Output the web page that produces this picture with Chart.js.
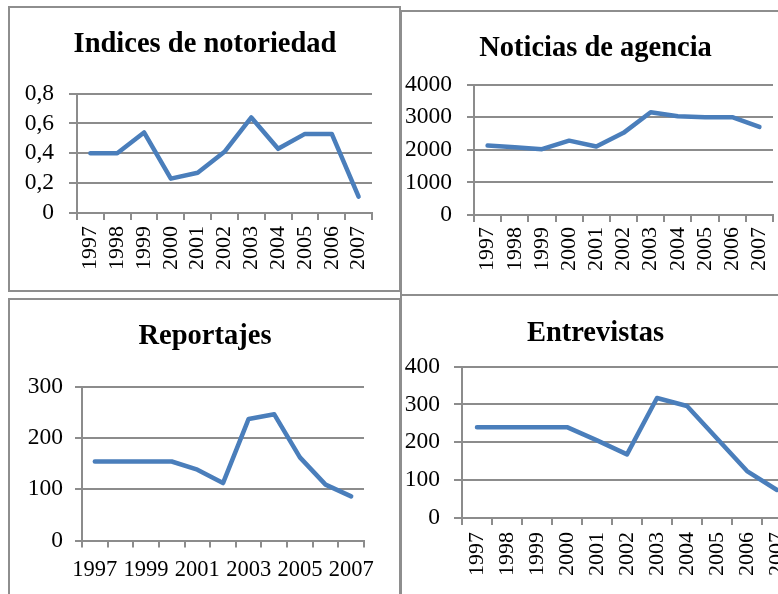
<!DOCTYPE html>
<html>
<head>
<meta charset="utf-8">
<script src="https://cdn.jsdelivr.net/npm/chart.js@4/dist/chart.umd.min.js"></script>
<style>
  html, body { margin: 0; padding: 0; background: #fff; }
  body { width: 778px; height: 594px; overflow: hidden; position: relative; }
  .box { position: absolute; box-sizing: border-box; border: 2px solid #8e8e8e; }
  canvas { position: absolute; }
</style>
</head>
<body>
<div class="box" style="left:8px;top:6px;width:393px;height:286px"></div>
<div class="box" style="left:400px;top:10px;width:400px;height:286px"></div>
<div class="box" style="left:8px;top:298px;width:393px;height:310px"></div>
<div class="box" style="left:400px;top:294px;width:400px;height:310px"></div>

<canvas id="c1" width="392" height="282" style="left:9px;top:8px"></canvas>
<canvas id="c2" width="397" height="280" style="left:402px;top:13px"></canvas>
<canvas id="c3" width="390" height="293" style="left:10px;top:301px"></canvas>
<canvas id="c4" width="413" height="297" style="left:399px;top:297px"></canvas>

<script>
// Datos
const years = ['1997', '1998', '1999', '2000', '2001', '2002', '2003', '2004', '2005', '2006', '2007'];
const notoriedad = [0.40, 0.40, 0.54, 0.23, 0.27, 0.41, 0.64, 0.43, 0.53, 0.53, 0.11];
const noticias = [2130, 2080, 2020, 2280, 2100, 2520, 3150, 3030, 3000, 3000, 2700];
const reportajes = [154, 154, 154, 154, 138, 112, 237, 246, 162, 109, 86];
const entrevistas = [240, 240, 240, 240, 205, 168, 317, 296, 210, 124, 74];

const GRID = '#8c8c8c';
const BLUE = '#4a7ebb';
const SERIF = "'Liberation Serif', 'Times New Roman', serif";

// Gráfico de línea al estilo Excel; el eje derecho invisible solo reserva espacio
const makeChart = (id, cfg) => {
    return new Chart(document.getElementById(id), {
        type: 'line',
        data: {
            labels: years,
            datasets: [{
                data: cfg.values,
                borderColor: BLUE,
                borderWidth: 4.5,
                borderCapStyle: 'round',
                borderJoinStyle: 'round',
                pointRadius: 0,
                tension: 0,
                fill: false
            }]
        },
        options: {
            responsive: false,
            animation: false,
            layout: { padding: { left: 0, right: cfg.pr, top: 0, bottom: 0 } },
            plugins: {
                legend: { display: false },
                tooltip: { enabled: false },
                title: {
                    display: true,
                    text: cfg.title,
                    color: '#000',
                    font: { family: SERIF, size: 28.5, weight: 'bold' },
                    padding: { top: cfg.tTop, bottom: cfg.tBottom }
                }
            },
            scales: {
                x: {
                    offset: true,
                    grid: { offset: true, drawOnChartArea: false, color: GRID, lineWidth: 2, tickLength: 7 },
                    border: { display: true, color: GRID, width: 2 },
                    ticks: {
                        color: '#000',
                        font: { family: SERIF, size: cfg.xFont },
                        autoSkip: false,
                        minRotation: cfg.rot,
                        maxRotation: cfg.rot,
                        padding: cfg.xPad,
                        callback: cfg.xLabel || ((v, i) => years[i])
                    },
                    afterFit: (s) => { s.height = cfg.xh; }
                },
                y: {
                    min: 0,
                    max: cfg.max,
                    grid: { color: GRID, lineWidth: 2, tickLength: cfg.yTick },
                    border: { display: true, color: GRID, width: 2 },
                    ticks: {
                        stepSize: cfg.step,
                        autoSkip: false,
                        color: '#000',
                        font: { family: SERIF, size: 23.5 },
                        padding: cfg.yPad,
                        callback: cfg.yLabel || ((v) => String(v))
                    },
                    afterFit: (s) => { s.width = cfg.yw; }
                },
                yr: {
                    type: 'linear',
                    position: 'right',
                    grid: { display: false, drawTicks: false },
                    border: { display: false },
                    ticks: { display: false },
                    afterFit: (s) => { s.width = cfg.y2w; }
                }
            }
        }
    });
};

makeChart('c1', {
    title: 'Indices de notoriedad', values: notoriedad,
    max: 0.8, step: 0.2,
    yLabel: (v) => v === 0 ? '0' : v.toFixed(1).replace('.', ','),
    pr: 0, yw: 68, y2w: 29, xh: 77, tTop: 20, tBottom: 31.4,
    rot: 90, xFont: 22, xPad: 6, yTick: 8, yPad: 15
});

makeChart('c2', {
    title: 'Noticias de agencia', values: noticias,
    max: 4000, step: 1000,
    pr: 10, yw: 72, y2w: 16, xh: 78, tTop: 18.4, tBottom: 19,
    rot: 90, xFont: 22, xPad: 5, yTick: 7, yPad: 15
});

makeChart('c3', {
    title: 'Reportajes', values: reportajes,
    max: 300, step: 100,
    xLabel: (v, i) => i % 2 === 0 ? years[i] : '',
    pr: 0, yw: 72, y2w: 36, xh: 53.5, tTop: 18.7, tBottom: 32.7,
    rot: 0, xFont: 22.5, xPad: 8.6, yTick: 7, yPad: 12
});

makeChart('c4', {
    title: 'Entrevistas', values: entrevistas,
    max: 400, step: 100,
    pr: 20, yw: 63, y2w: 0, xh: 76, tTop: 19.4, tBottom: 16,
    rot: 90, xFont: 22, xPad: 7, yTick: 8, yPad: 14
});
</script>
</body>
</html>
